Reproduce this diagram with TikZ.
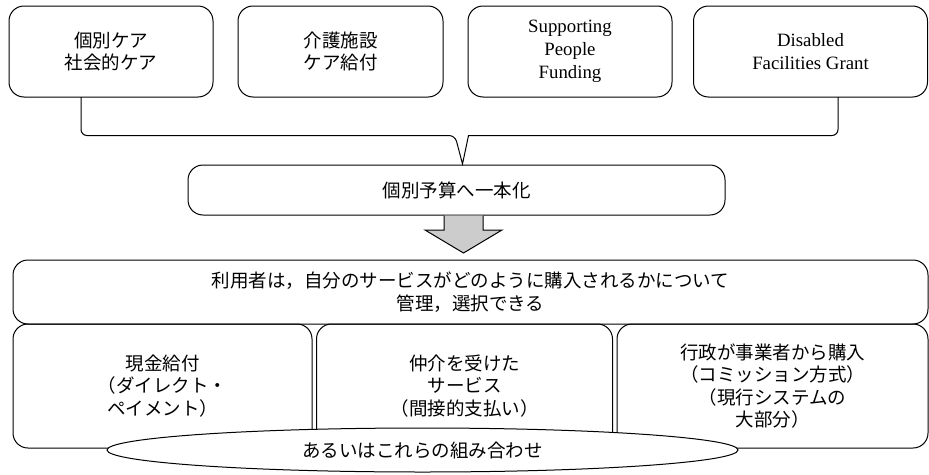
\documentclass[tikz,border=0pt]{standalone}
\usepackage{fontspec}
\setmainfont{Liberation Serif}
\newfontfamily\jp{Noto Sans CJK JP}
\usetikzlibrary{shapes.geometric}
\begin{document}
\begin{tikzpicture}[x=1pt,y=-1pt,
  box/.style={draw,line width=1pt,rounded corners=15pt,inner sep=0pt,outer sep=0pt,align=center,
    font=\fontsize{18.8}{22.8}\selectfont},
  jbox/.style={box,font=\jp\fontsize{18.5}{22.5}\selectfont},
  brace/.style={draw,line width=1pt},
  arrowfill/.style={draw,line width=1pt,fill=gray!40},
  oval/.style={draw,line width=1pt,fill=white,ellipse,inner sep=0pt,outer sep=0pt,
    font=\jp\fontsize{18.5}{22.5}\selectfont}]
\useasboundingbox (0,0) rectangle (929,474);
% top boxes
\node[jbox,minimum width=204pt,minimum height=91pt] (b1) at (111,51.5) {個別ケア\\社会的ケア};
\node[jbox,minimum width=205pt,minimum height=91pt] (b2) at (340.5,51.5) {介護施設\\ケア給付};
\node[box,minimum width=204pt,minimum height=91pt] (b3) at (570,51.5) {Supporting\\People\\Funding};
\node[box,minimum width=234pt,minimum height=91pt] (b4) at (810.5,51.5) {Disabled\\Facilities Grant};
% middle box
\node[jbox,minimum width=537pt,minimum height=50pt] (mid) at (456.5,190) {個別予算へ一本化};
% brace
\coordinate (bl) at (455,135.5);
\coordinate (br) at (468.5,135.5);
\coordinate (tip) at (462.5,164);
\draw[brace] ([xshift=-30pt]b1.south) [rounded corners=6pt] |- (bl) [sharp corners] -- (tip) -- (br)
  [rounded corners=6pt] -| ([xshift=27.5pt]b4.south);
% arrow
\coordinate (at) at (463.5,253);
\draw[arrowfill] (444,215.5) -- (444,230) -- (425,230) -- (at) -- (502,230) -- (483,230) -- (483,215.5);
% big box
\node[jbox,minimum width=915pt,minimum height=64pt] (big) at (470.5,292)
  {利用者は，自分のサービスがどのように購入されるかについて\\管理，選択できる};
% bottom boxes
\node[jbox,minimum width=299pt,minimum height=124pt] (ba) at (162.5,386) {現金給付\\（ダイレクト・\\ペイメント）};
\node[jbox,minimum width=296pt,minimum height=124pt] (bb) at (464.5,386) {仲介を受けた\\サービス\\（間接的支払い）};
\node[jbox,minimum width=311pt,minimum height=124pt] (bc) at (772.5,386)
  {行政が事業者から購入\\（コミッション方式）\\（現行システムの\\大部分）};
% oval
\node[oval,minimum width=631pt,minimum height=44pt] (ov) at (422.5,450) {あるいはこれらの組み合わせ};
\end{tikzpicture}
\end{document}
